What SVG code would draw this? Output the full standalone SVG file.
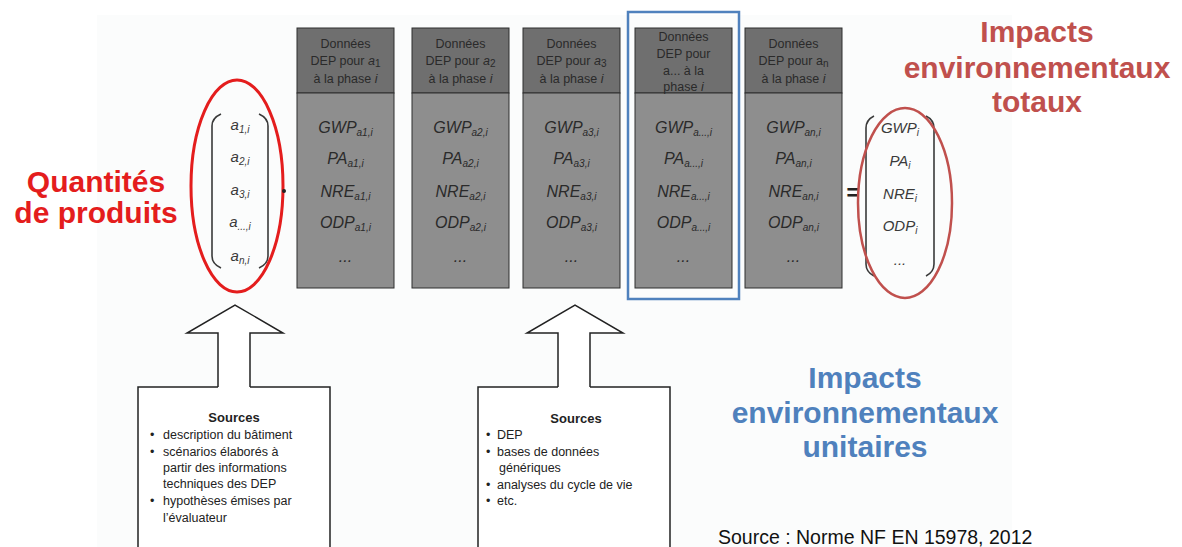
<svg xmlns="http://www.w3.org/2000/svg" width="1182" height="547" viewBox="0 0 1182 547">
<style>
text{font-family:"Liberation Sans",Arial,sans-serif}
.hdr{fill:#6f6f6f;stroke:#2e2e2e;stroke-width:1}
.body{fill:#8e8e8e;stroke:#2e2e2e;stroke-width:1}
.ht{font-size:12.5px;fill:#2a2a2a;text-anchor:middle}
.bt{font-size:16px;font-style:italic;fill:#2a2a2a;text-anchor:middle}
.mt{font-size:15px;font-style:italic;fill:#3a3a3a;text-anchor:middle}
.sub{font-size:10px}
.br{fill:none;stroke:#3a3a3a;stroke-width:1.6}
.src{font-size:12.5px;fill:#222}
.srch{font-size:13px;font-weight:bold;fill:#222;text-anchor:middle}
.outl{fill:#fff;stroke:#222;stroke-width:1.5}
.red{font-size:30px;font-weight:bold;fill:#e41d1d}
.dred{font-size:30px;font-weight:bold;fill:#c0504d;text-anchor:middle}
.blue{font-size:30px;font-weight:bold;fill:#4f81bd;text-anchor:middle}
</style>
<rect x="0" y="0" width="1182" height="547" fill="#fff"/>
<rect x="97" y="15" width="915" height="532" fill="#fbfcfc"/>

<g id="label-quantites">
<text class="red" x="96" y="192" text-anchor="middle">Quantités</text>
<text class="red" x="96" y="223" text-anchor="middle">de produits</text>
</g>

<g id="matrix-quantites">
<path class="br" d="M221 114 Q212 118 212 126 V256 Q212 264 221 268"/>
<path class="br" d="M259 114 Q268 118 268 126 V256 Q268 264 259 268"/>
<text class="mt" x="240" y="130">a<tspan class="sub" dy="3">1,i</tspan></text>
<text class="mt" x="240" y="162">a<tspan class="sub" dy="3">2,i</tspan></text>
<text class="mt" x="240" y="195">a<tspan class="sub" dy="3">3,i</tspan></text>
<text class="mt" x="240" y="227">a<tspan class="sub" dy="3">...,i</tspan></text>
<text class="mt" x="240" y="261">a<tspan class="sub" dy="3">n,i</tspan></text>
<ellipse cx="237" cy="186" rx="46" ry="106" fill="none" stroke="#e41d1d" stroke-width="3"/>
<circle cx="284" cy="191" r="2" fill="#222"/>
</g>

<g id="col-a1">
<rect class="hdr" x="297" y="28" width="97" height="65"/>
<rect class="body" x="297" y="93" width="97" height="195"/>
<text class="ht" x="345.5" y="48">Données</text>
<text class="ht" x="345.5" y="65">DEP pour <tspan font-style="italic">a</tspan><tspan class="sub" dy="2">1</tspan></text>
<text class="ht" x="345.5" y="83">à la phase <tspan font-style="italic">i</tspan></text>
<text class="bt" x="345.5" y="133">GWP<tspan class="sub" dy="3">a1,i</tspan></text>
<text class="bt" x="345.5" y="164">PA<tspan class="sub" dy="3">a1,i</tspan></text>
<text class="bt" x="345.5" y="197">NRE<tspan class="sub" dy="3">a1,i</tspan></text>
<text class="bt" x="345.5" y="228">ODP<tspan class="sub" dy="3">a1,i</tspan></text>
<text class="bt" x="345.5" y="262" font-size="12">...</text>
</g>

<g id="col-a2">
<rect class="hdr" x="412" y="28" width="97" height="65"/>
<rect class="body" x="412" y="93" width="97" height="195"/>
<text class="ht" x="460.5" y="48">Données</text>
<text class="ht" x="460.5" y="65">DEP pour <tspan font-style="italic">a</tspan><tspan class="sub" dy="2">2</tspan></text>
<text class="ht" x="460.5" y="83">à la phase <tspan font-style="italic">i</tspan></text>
<text class="bt" x="460.5" y="133">GWP<tspan class="sub" dy="3">a2,i</tspan></text>
<text class="bt" x="460.5" y="164">PA<tspan class="sub" dy="3">a2,i</tspan></text>
<text class="bt" x="460.5" y="197">NRE<tspan class="sub" dy="3">a2,i</tspan></text>
<text class="bt" x="460.5" y="228">ODP<tspan class="sub" dy="3">a2,i</tspan></text>
<text class="bt" x="460.5" y="262" font-size="12">...</text>
</g>

<g id="col-a3">
<rect class="hdr" x="523" y="28" width="97" height="65"/>
<rect class="body" x="523" y="93" width="97" height="195"/>
<text class="ht" x="571.5" y="48">Données</text>
<text class="ht" x="571.5" y="65">DEP pour <tspan font-style="italic">a</tspan><tspan class="sub" dy="2">3</tspan></text>
<text class="ht" x="571.5" y="83">à la phase <tspan font-style="italic">i</tspan></text>
<text class="bt" x="571.5" y="133">GWP<tspan class="sub" dy="3">a3,i</tspan></text>
<text class="bt" x="571.5" y="164">PA<tspan class="sub" dy="3">a3,i</tspan></text>
<text class="bt" x="571.5" y="197">NRE<tspan class="sub" dy="3">a3,i</tspan></text>
<text class="bt" x="571.5" y="228">ODP<tspan class="sub" dy="3">a3,i</tspan></text>
<text class="bt" x="571.5" y="262" font-size="12">...</text>
</g>

<g id="col-adots">
<rect class="hdr" x="635" y="28" width="97" height="65"/>
<rect class="body" x="635" y="93" width="97" height="195"/>
<text class="ht" x="683.5" y="41">Données</text>
<text class="ht" x="683.5" y="58">DEP pour</text>
<text class="ht" x="683.5" y="75">a... à la</text>
<text class="ht" x="683.5" y="91">phase <tspan font-style="italic">i</tspan></text>
<text class="bt" x="683.5" y="133">GWP<tspan class="sub" dy="3">a...,i</tspan></text>
<text class="bt" x="683.5" y="164">PA<tspan class="sub" dy="3">a...,i</tspan></text>
<text class="bt" x="683.5" y="197">NRE<tspan class="sub" dy="3">a...,i</tspan></text>
<text class="bt" x="683.5" y="228">ODP<tspan class="sub" dy="3">a...,i</tspan></text>
<text class="bt" x="683.5" y="262" font-size="12">...</text>
<rect x="628" y="12" width="111" height="287" fill="none" stroke="#4f81bd" stroke-width="2.5"/>
</g>

<g id="col-an">
<rect class="hdr" x="745" y="28" width="97" height="65"/>
<rect class="body" x="745" y="93" width="97" height="195"/>
<text class="ht" x="793.5" y="48">Données</text>
<text class="ht" x="793.5" y="65">DEP pour a<tspan class="sub" dy="2">n</tspan></text>
<text class="ht" x="793.5" y="83">à la phase <tspan font-style="italic">i</tspan></text>
<text class="bt" x="793.5" y="133">GWP<tspan class="sub" dy="3">an,i</tspan></text>
<text class="bt" x="793.5" y="164">PA<tspan class="sub" dy="3">an,i</tspan></text>
<text class="bt" x="793.5" y="197">NRE<tspan class="sub" dy="3">an,i</tspan></text>
<text class="bt" x="793.5" y="228">ODP<tspan class="sub" dy="3">an,i</tspan></text>
<text class="bt" x="793.5" y="262" font-size="12">...</text>
</g>

<g id="matrix-totaux">
<text x="853" y="200" font-size="22" font-weight="bold" fill="#222" text-anchor="middle">=</text>
<path class="br" d="M874 116 Q866 120 866 128 V264 Q866 272 874 276"/>
<path class="br" d="M926 116 Q934 120 934 128 V264 Q934 272 926 276"/>
<text class="mt" x="900" y="133">GWP<tspan class="sub" dy="3">i</tspan></text>
<text class="mt" x="900" y="166">PA<tspan class="sub" dy="3">i</tspan></text>
<text class="mt" x="900" y="199">NRE<tspan class="sub" dy="3">i</tspan></text>
<text class="mt" x="900" y="231">ODP<tspan class="sub" dy="3">i</tspan></text>
<text class="mt" x="900" y="265" font-size="12">...</text>
<ellipse cx="905" cy="203" rx="47" ry="95" fill="none" stroke="#c0504d" stroke-width="2.5"/>
</g>

<g id="label-totaux">
<text class="dred" x="1037" y="42">Impacts</text>
<text class="dred" x="1037" y="78">environnementaux</text>
<text class="dred" x="1037" y="112">totaux</text>
</g>

<g id="label-unitaires">
<text class="blue" x="865" y="388">Impacts</text>
<text class="blue" x="865" y="423">environnementaux</text>
<text class="blue" x="865" y="457">unitaires</text>
</g>

<g id="connectors">
<path class="outl" d="M218 388 V333 H187 L235 305 L283 333 H250 V388"/>
<path class="outl" d="M558 388 V333 H527 L575 305 L623 333 H590 V388"/>
</g>

<g id="sources-batiment">
<rect x="138" y="387" width="192" height="170" fill="#fff"/>
<path fill="none" stroke="#222" stroke-width="1.5" d="M218 387 H138 V550 M250 387 H330 V550"/>
<text class="srch" x="234" y="422">Sources</text>
<g class="src">
<text x="150" y="439">•</text><text x="163" y="439">description du bâtiment</text>
<text x="150" y="456">•</text><text x="163" y="456">scénarios élaborés à</text>
<text x="163" y="472">partir des informations</text>
<text x="163" y="488">techniques des DEP</text>
<text x="150" y="505">•</text><text x="163" y="505">hypothèses émises par</text>
<text x="163" y="522">l’évaluateur</text>
</g>
</g>

<g id="sources-dep">
<rect x="478" y="387" width="192" height="170" fill="#fff"/>
<path fill="none" stroke="#222" stroke-width="1.5" d="M558 387 H478 V550 M590 387 H670 V550"/>
<text class="srch" x="576" y="423">Sources</text>
<g class="src">
<text x="486" y="439">•</text><text x="497" y="439">DEP</text>
<text x="486" y="456">•</text><text x="497" y="456">bases de données</text>
<text x="499" y="472">génériques</text>
<text x="486" y="489">•</text><text x="497" y="489">analyses du cycle de vie</text>
<text x="486" y="505">•</text><text x="497" y="505">etc.</text>
</g>
</g>

<g id="source-note">
<text x="718" y="544" font-size="19.5" fill="#111">Source : Norme NF EN 15978, 2012</text>
</g>
</svg>
